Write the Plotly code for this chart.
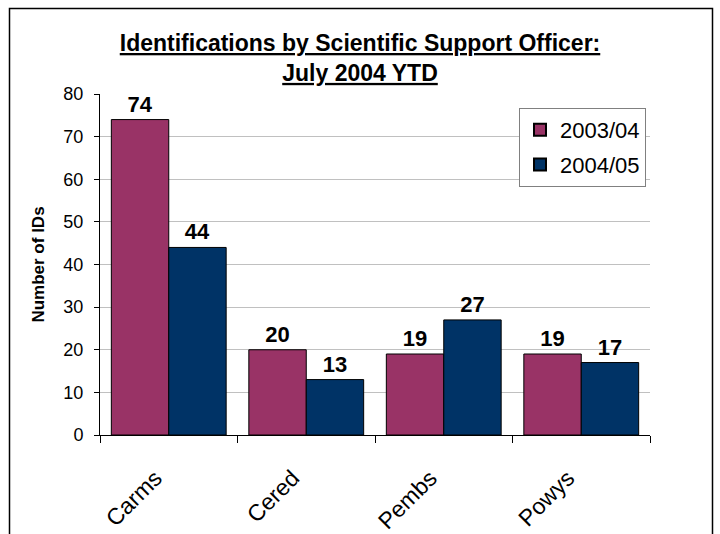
import plotly.graph_objects as go

categories = ["Carms", "Cered", "Pembs", "Powys"]
series_names = ["2003/04", "2004/05"]
values_2003 = [74, 20, 19, 19]
values_2004 = [44, 13, 27, 17]
colors = ["#993366", "#003366"]

FONT = "Liberation Sans, Arial, sans-serif"

fig = go.Figure()
for name, vals, col in zip(series_names, [values_2003, values_2004], colors):
    fig.add_trace(go.Bar(
        x=categories, y=vals, name=name, legendgroup=name,
        marker=dict(color=col, line=dict(color="black", width=1)),
        text=[str(v) for v in vals], textposition="outside",
        textfont=dict(family=FONT, size=22, color="black", weight="bold"),
        cliponaxis=False,
    ))

L, R, T, B = 100, 70, 94, 99
W, H = 720, 534
pw, ph = W - L - R, H - T - B

def px(x):
    return (x - L) / pw

def py(y):
    return (H - B - y) / ph

fig.update_layout(
    width=W, height=H,
    margin=dict(l=L, r=R, t=T, b=B, autoexpand=False),
    paper_bgcolor="white", plot_bgcolor="white",
    barmode="group", bargap=0.165, bargroupgap=0,
    font=dict(family=FONT, color="black"),
    title=dict(
        text="<b><u>Identifications by Scientific Support Officer:</u></b><br><b><u>July 2004 YTD</u></b>",
        x=0.5, xanchor="center", y=1 - 51 / H, yanchor="middle",
        font=dict(family=FONT, size=23, color="black"),
    ),
    legend=dict(
        x=px(519), y=py(108), xanchor="left", yanchor="top",
        bgcolor="white", bordercolor="#808080", borderwidth=1,
        font=dict(family=FONT, size=22, color="black"),
        itemsizing="constant", tracegroupgap=3, itemwidth=30,
    ),
    showlegend=True,
    xaxis=dict(
        type="category", showline=True, linecolor="black", linewidth=1,
        ticks="outside", tickson="boundaries", ticklen=7, tickcolor="black",
        ticklabelstandoff=6,
        tickvals=categories, ticktext=[c + "\u00a0\u00a0\u00a0" for c in categories],
        tickangle=-45, tickfont=dict(family=FONT, size=23, color="black"),
        showgrid=False,
    ),
    yaxis=dict(
        range=[0, 80], dtick=10, showline=True, linecolor="black", linewidth=1,
        ticks="outside", ticklen=5, tickcolor="black", ticklabelstandoff=7,
        tickfont=dict(family=FONT, size=18, color="black"),
        showgrid=True, gridcolor="#c0c0c0", gridwidth=1, zeroline=False,
        title=dict(text="<b>Number of IDs</b>", font=dict(family=FONT, size=17, color="black"), standoff=14),
    ),
    shapes=[dict(
        type="rect", xref="paper", yref="paper",
        x0=px(9.5), x1=px(712.5), y0=py(545), y1=py(8.5),
        line=dict(color="black", width=1.5), fillcolor="rgba(0,0,0,0)", layer="below",
    )],
)

fig.write_html(
    "out.html",
    config={"displayModeBar": False},
    post_script="document.body.style.margin='0';document.body.style.overflow='hidden';",
)
